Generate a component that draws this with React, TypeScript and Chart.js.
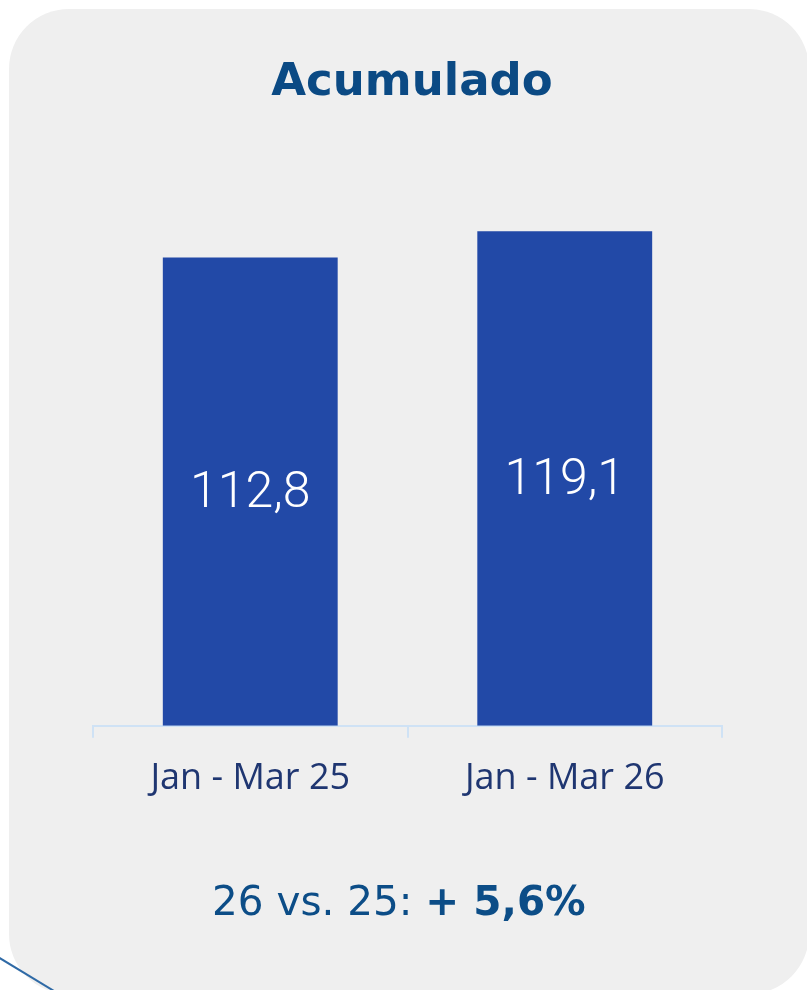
import React, { useEffect, useRef } from "react";
import { Chart, registerables } from "chart.js";

Chart.register(...registerables);

const categories = ["Jan - Mar 25", "Jan - Mar 26"];
const values = [112.8, 119.1];
const titleText = "Acumulado";
const comparisonLabel = "26 vs. 25: ";
const comparisonValue = "+ 5,6%";

const formatValue = (v: number) => v.toFixed(1).replace(".", ",");

const valueLabels = {
  id: "valueLabels",
  afterDatasetsDraw(chart: any) {
    const ctx = chart.ctx;
    const meta = chart.getDatasetMeta(0);
    ctx.save();
    ctx.font = "300 50px Roboto";
    ctx.fillStyle = "#ffffff";
    ctx.textAlign = "center";
    ctx.textBaseline = "alphabetic";
    meta.data.forEach((bar: any, i: number) => {
      const { x, y, base } = bar.getProps(["x", "y", "base"], true);
      const cy = (y + base) / 2;
      ctx.fillText(formatValue(values[i]), x, cy + 15);
    });
    ctx.restore();
  },
};

export default function App() {
  const canvasRef = useRef<HTMLCanvasElement | null>(null);

  useEffect(() => {
    if (!canvasRef.current) return;
    const chart = new Chart(canvasRef.current, {
      type: "bar",
      data: {
        labels: categories,
        datasets: [
          {
            data: values,
            backgroundColor: "#2249a7",
            borderWidth: 0,
            categoryPercentage: 1,
            barPercentage: 0.556,
          },
        ],
      },
      options: {
        responsive: false,
        animation: false,
        devicePixelRatio: 1,
        layout: { padding: { left: 93, right: 85, top: 186, bottom: 171 } },
        plugins: {
          legend: { display: false },
          title: { display: false },
          tooltip: { enabled: false },
        },
        scales: {
          x: {
            grid: {
              display: true,
              drawOnChartArea: false,
              drawTicks: true,
              tickLength: 12,
              color: "#cfe2f5",
              lineWidth: 2,
            },
            border: { display: true, color: "#cfe2f5", width: 2 },
            ticks: {
              color: "#1f3671",
              font: { family: "'Open Sans'", size: 36 },
              padding: 19,
            },
          },
          y: {
            display: false,
            min: 0,
            max: 130,
          },
        },
      },
      plugins: [valueLabels],
    });
    return () => chart.destroy();
  }, []);

  return (
    <div
      style={{
        position: "absolute",
        left: 0,
        top: 0,
        width: 807,
        height: 990,
        overflow: "hidden",
        background: "#ffffff",
      }}
    >
      <div
        style={{
          position: "absolute",
          left: 9,
          top: 9,
          width: 800,
          height: 985,
          borderRadius: 60,
          background: "#efefef",
        }}
      />
      <svg
        width={807}
        height={990}
        style={{ position: "absolute", left: 0, top: 0 }}
      >
        <path d="M -2 957 Q 26 974 54 991" fill="none" stroke="#2f6aa6" strokeWidth={2} />
      </svg>
      <canvas
        ref={canvasRef}
        width={807}
        height={990}
        style={{ position: "absolute", left: 0, top: 0, width: 807, height: 990 }}
      />
      <div
        style={{
          position: "absolute",
          left: 212,
          top: 57,
          width: 400,
          textAlign: "center",
          fontFamily: "'DejaVu Sans'",
          fontWeight: 700,
          fontSize: 45,
          lineHeight: 1,
          color: "#0b4a84",
          whiteSpace: "nowrap",
        }}
      >
        {titleText}
      </div>
      <div
        style={{
          position: "absolute",
          left: 212,
          top: 881,
          fontFamily: "'DejaVu Sans'",
          fontSize: 40.5,
          lineHeight: 1,
          color: "#0c4d87",
          whiteSpace: "pre",
        }}
      >
        {comparisonLabel}
        <span style={{ fontWeight: 700 }}>{comparisonValue}</span>
      </div>
    </div>
  );
}
